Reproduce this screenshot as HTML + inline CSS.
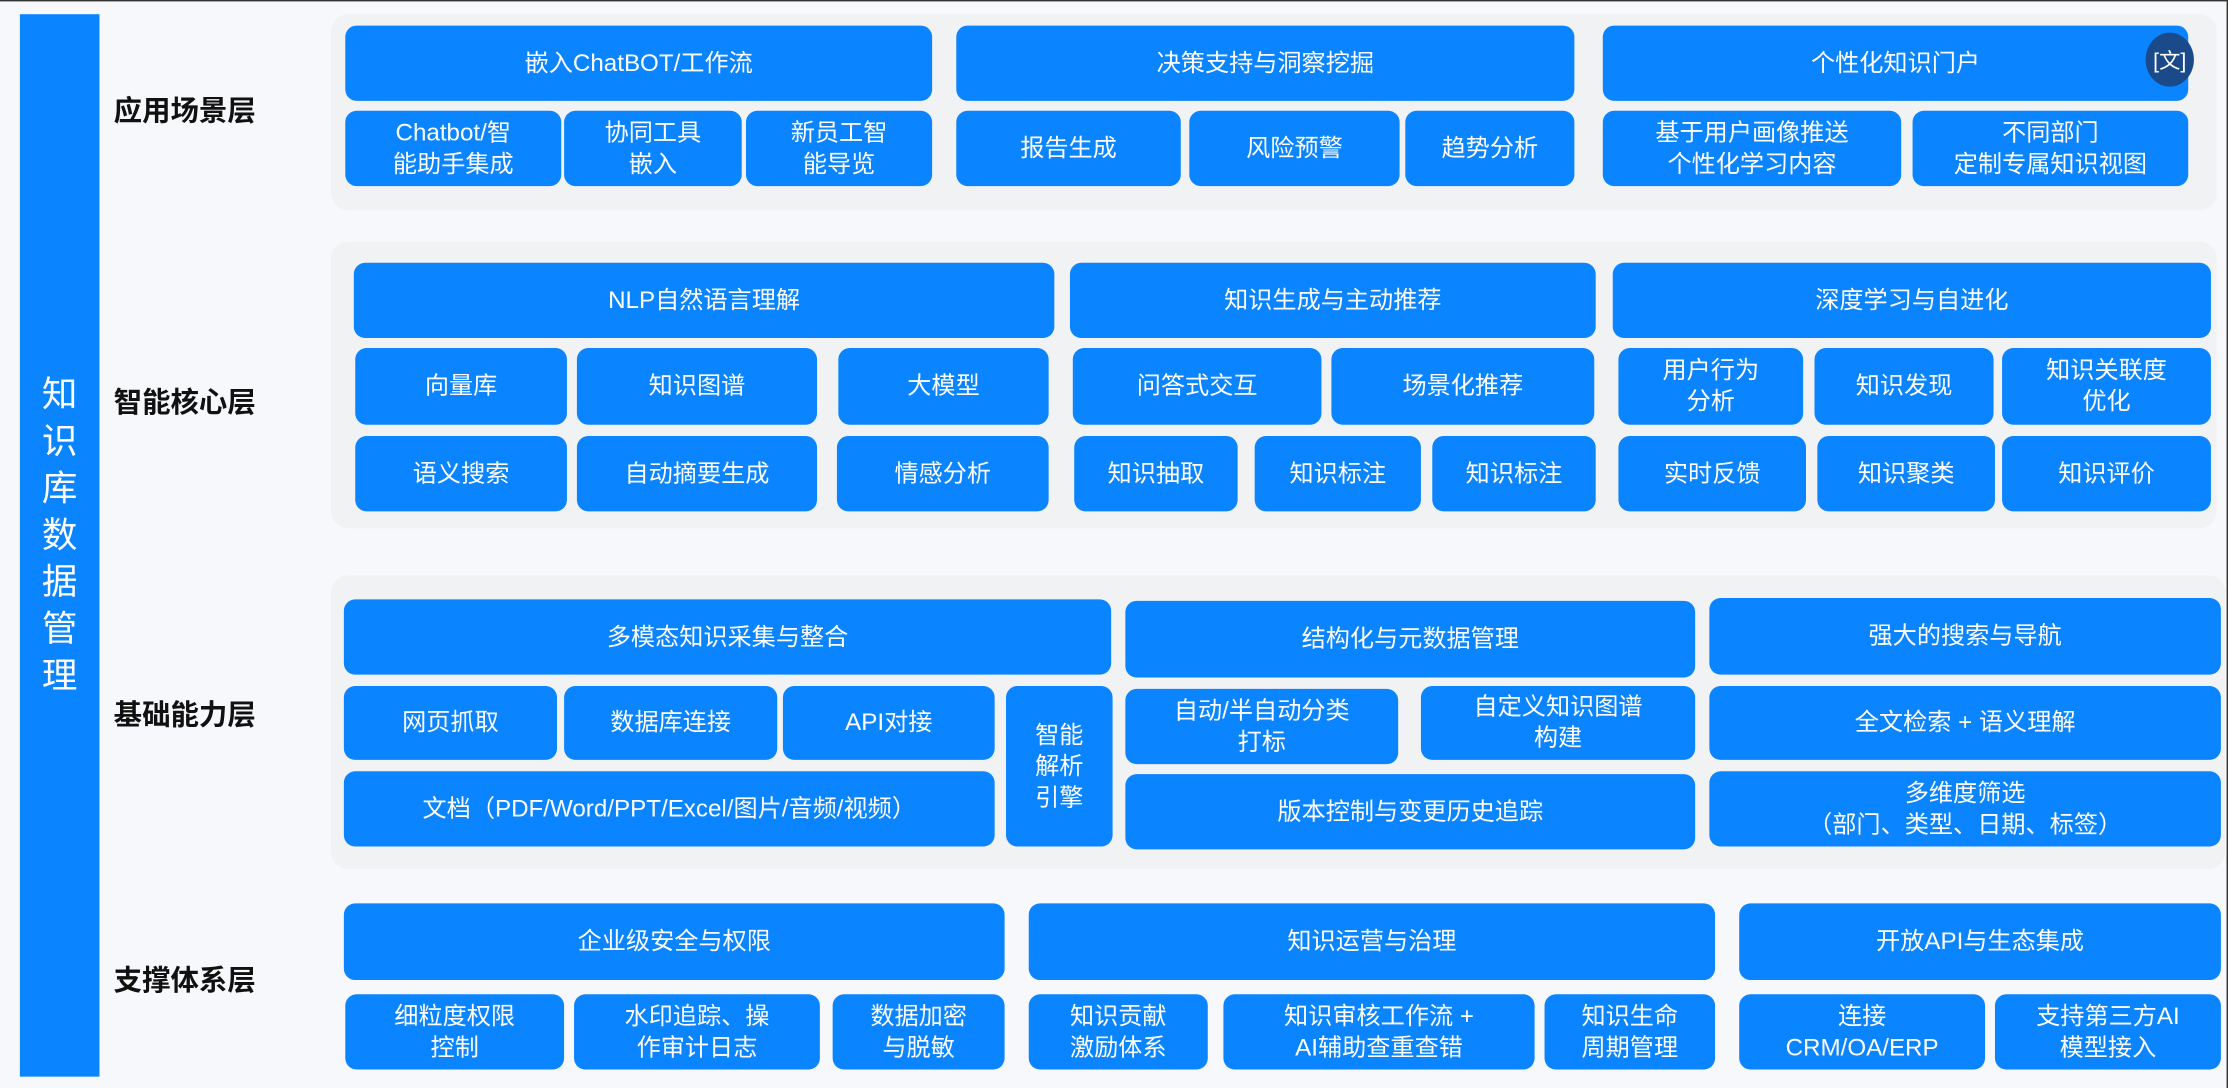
<!DOCTYPE html>
<html><head><meta charset="utf-8"><style>
html,body{margin:0;padding:0;width:2228px;height:1088px;overflow:hidden;background:#f6f8fb}
#w{position:absolute;left:0;top:0;width:1568px;height:766px;transform:scale(1.42092,1.42037);transform-origin:0 0;font-family:"Liberation Sans","Noto Sans CJK SC",sans-serif}
.p{position:absolute;background:#f1f2f4;border-radius:12px}
.b{position:absolute;background:#0a84ff;border-radius:8px;color:#fff;font-size:17px;line-height:22px;display:flex;align-items:center;justify-content:center;text-align:center;box-sizing:border-box}
.l{position:absolute;left:80px;font-size:20px;font-weight:bold;color:#111}
</style></head><body><div id="w">
<div style="position:absolute;left:0;top:0;width:1568px;height:1px;background:#333"></div>
<div style="position:absolute;right:0;top:0;width:1px;height:766px;background:#333"></div>
<div style="position:absolute;left:14px;top:10px;width:56px;height:748px;background:#0a84ff"></div>
<div style="position:absolute;left:14px;top:262px;width:56px;color:#fff;font-size:25px;line-height:33px;text-align:center">知<br>识<br>库<br>数<br>据<br>管<br>理</div>

<div class="l" style="top:62px">应用场景层</div>
<div class="l" style="top:267px">智能核心层</div>
<div class="l" style="top:487px">基础能力层</div>
<div class="l" style="top:674px">支撑体系层</div>

<div class="p" style="left:233px;top:10px;width:1327px;height:138px"></div>
<div class="p" style="left:233px;top:170px;width:1327px;height:202px"></div>
<div class="p" style="left:233px;top:405px;width:1333px;height:207px"></div>

<div class="b" style="left:243px;top:18px;width:413px;height:53px">嵌入ChatBOT/工作流</div>
<div class="b" style="left:673px;top:18px;width:435px;height:53px">决策支持与洞察挖掘</div>
<div class="b" style="left:1128px;top:18px;width:412px;height:53px">个性化知识门户</div>
<div style="position:absolute;left:1510px;top:23px;width:34px;height:38px;border-radius:50%;background:#1a4a8a;color:#fff;font-size:15px;display:flex;align-items:center;justify-content:center">[文]</div>
<div class="b" style="left:243px;top:78px;width:152px;height:53px">Chatbot/智<br>能助手集成</div>
<div class="b" style="left:397px;top:78px;width:125px;height:53px">协同工具<br>嵌入</div>
<div class="b" style="left:525px;top:78px;width:131px;height:53px">新员工智<br>能导览</div>
<div class="b" style="left:673px;top:78px;width:158px;height:53px">报告生成</div>
<div class="b" style="left:837px;top:78px;width:148px;height:53px">风险预警</div>
<div class="b" style="left:989px;top:78px;width:119px;height:53px">趋势分析</div>
<div class="b" style="left:1128px;top:78px;width:210px;height:53px">基于用户画像推送<br>个性化学习内容</div>
<div class="b" style="left:1346px;top:78px;width:194px;height:53px">不同部门<br>定制专属知识视图</div>

<div class="b" style="left:249px;top:185px;width:493px;height:53px">NLP自然语言理解</div>
<div class="b" style="left:753px;top:185px;width:370px;height:53px">知识生成与主动推荐</div>
<div class="b" style="left:1135px;top:185px;width:421px;height:53px">深度学习与自进化</div>
<div class="b" style="left:250px;top:245px;width:149px;height:54px">向量库</div>
<div class="b" style="left:406px;top:245px;width:169px;height:54px">知识图谱</div>
<div class="b" style="left:590px;top:245px;width:148px;height:54px">大模型</div>
<div class="b" style="left:755px;top:245px;width:175px;height:54px">问答式交互</div>
<div class="b" style="left:937px;top:245px;width:185px;height:54px">场景化推荐</div>
<div class="b" style="left:1139px;top:245px;width:130px;height:54px">用户行为<br>分析</div>
<div class="b" style="left:1277px;top:245px;width:126px;height:54px">知识发现</div>
<div class="b" style="left:1409px;top:245px;width:147px;height:54px">知识关联度<br>优化</div>
<div class="b" style="left:250px;top:307px;width:149px;height:53px">语义搜索</div>
<div class="b" style="left:406px;top:307px;width:169px;height:53px">自动摘要生成</div>
<div class="b" style="left:589px;top:307px;width:149px;height:53px">情感分析</div>
<div class="b" style="left:756px;top:307px;width:115px;height:53px">知识抽取</div>
<div class="b" style="left:883px;top:307px;width:117px;height:53px">知识标注</div>
<div class="b" style="left:1008px;top:307px;width:115px;height:53px">知识标注</div>
<div class="b" style="left:1139px;top:307px;width:132px;height:53px">实时反馈</div>
<div class="b" style="left:1279px;top:307px;width:125px;height:53px">知识聚类</div>
<div class="b" style="left:1409px;top:307px;width:147px;height:53px">知识评价</div>

<div class="b" style="left:242px;top:422px;width:540px;height:53px">多模态知识采集与整合</div>
<div class="b" style="left:242px;top:483px;width:150px;height:52px">网页抓取</div>
<div class="b" style="left:397px;top:483px;width:150px;height:52px">数据库连接</div>
<div class="b" style="left:551px;top:483px;width:149px;height:52px">API对接</div>
<div class="b" style="left:242px;top:543px;width:458px;height:53px">文档（PDF/Word/PPT/Excel/图片/音频/视频）</div>
<div class="b" style="left:708px;top:483px;width:75px;height:113px">智能<br>解析<br>引擎</div>
<div class="b" style="left:792px;top:423px;width:401px;height:54px">结构化与元数据管理</div>
<div class="b" style="left:792px;top:485px;width:192px;height:53px">自动/半自动分类<br>打标</div>
<div class="b" style="left:1000px;top:483px;width:193px;height:52px">自定义知识图谱<br>构建</div>
<div class="b" style="left:792px;top:545px;width:401px;height:53px">版本控制与变更历史追踪</div>
<div class="b" style="left:1203px;top:421px;width:360px;height:54px">强大的搜索与导航</div>
<div class="b" style="left:1203px;top:483px;width:360px;height:52px">全文检索 + 语义理解</div>
<div class="b" style="left:1203px;top:543px;width:360px;height:53px">多维度筛选<br>（部门、类型、日期、标签）</div>

<div class="b" style="left:242px;top:636px;width:465px;height:54px">企业级安全与权限</div>
<div class="b" style="left:724px;top:636px;width:483px;height:54px">知识运营与治理</div>
<div class="b" style="left:1224px;top:636px;width:339px;height:54px">开放API与生态集成</div>
<div class="b" style="left:243px;top:700px;width:154px;height:53px">细粒度权限<br>控制</div>
<div class="b" style="left:404px;top:700px;width:173px;height:53px">水印追踪、操<br>作审计日志</div>
<div class="b" style="left:586px;top:700px;width:121px;height:53px">数据加密<br>与脱敏</div>
<div class="b" style="left:724px;top:700px;width:126px;height:53px">知识贡献<br>激励体系</div>
<div class="b" style="left:861px;top:700px;width:219px;height:53px">知识审核工作流 +<br>AI辅助查重查错</div>
<div class="b" style="left:1087px;top:700px;width:120px;height:53px">知识生命<br>周期管理</div>
<div class="b" style="left:1224px;top:700px;width:173px;height:53px">连接<br>CRM/OA/ERP</div>
<div class="b" style="left:1404px;top:700px;width:159px;height:53px">支持第三方AI<br>模型接入</div>
</div></body></html>
